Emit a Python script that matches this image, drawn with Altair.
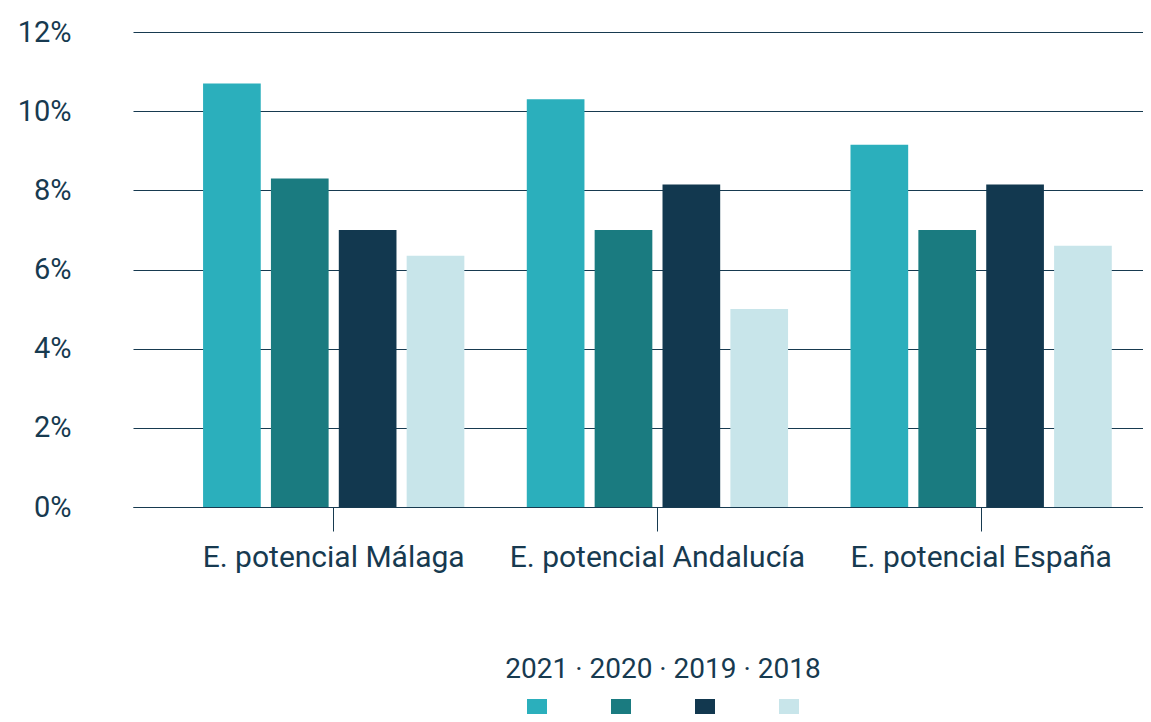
import altair as alt
import pandas as pd

groups = ["E. potencial Málaga", "E. potencial Andalucía", "E. potencial España"]
years = ["2021", "2020", "2019", "2018"]
v2021 = [10.7, 10.3, 9.15]
v2020 = [8.3, 7.0, 7.0]
v2019 = [7.0, 8.15, 8.15]
v2018 = [6.35, 5.0, 6.6]
colors = ["#2BAFBC", "#1A7B80", "#12384F", "#C8E5EA"]

series = {"2021": v2021, "2020": v2020, "2019": v2019, "2018": v2018}
rows = []
for y in years:
    for g, v in zip(groups, series[y]):
        rows.append({"grupo": g, "año": y, "valor": v / 100})
df = pd.DataFrame(rows)

FONT = "Roboto, sans-serif"
TXT = "#173A50"

chart = alt.Chart(df).mark_bar().encode(
    x=alt.X("grupo:N", sort=groups, title=None,
            scale=alt.Scale(paddingInner=0, paddingOuter=0.06, align=1),
            axis=alt.Axis(labelAngle=0, tickSize=24, tickColor=TXT, domainColor=TXT,
                          labelFontSize=30, labelColor=TXT, labelFont=FONT,
                          labelLimit=0, labelPadding=11, grid=False)),
    xOffset=alt.XOffset("año:N", sort=years,
                        scale=alt.Scale(paddingInner=0.15, paddingOuter=0.46)),
    y=alt.Y("valor:Q", title=None,
            scale=alt.Scale(domain=[0, 0.12]),
            axis=alt.Axis(format=".0%", values=[0, 0.02, 0.04, 0.06, 0.08, 0.10, 0.12],
                          tickSize=0, domain=False, labelPadding=62,
                          labelFontSize=29, labelColor=TXT, labelFont=FONT,
                          gridColor=TXT, gridWidth=1, gridOpacity=1)),
    color=alt.Color("año:N", sort=years,
                    scale=alt.Scale(domain=years, range=colors),
                    legend=alt.Legend(title=" · ".join(years), orient="none",
                                      legendX=372, legendY=624,
                                      direction="horizontal",
                                      titleOrient="top", titleAnchor="middle",
                                      titleFontSize=28, titleFont=FONT, titleColor=TXT,
                                      titleFontWeight="normal", titlePadding=15,
                                      titleLimit=0, labelLimit=0,
                                      labelExpr="''", labelOffset=0, columnPadding=64,
                                      symbolType="square", symbolSize=400,
                                      symbolStrokeWidth=0, symbolOpacity=1)),
).properties(
    width=1010, height=475,
    padding={"left": 125, "top": 24, "right": 0, "bottom": 207},
    autosize=alt.AutoSizeParams(type="none"),
).configure_view(stroke=None)

chart.save("out.html", embed_options={"renderer": "svg", "actions": False})
